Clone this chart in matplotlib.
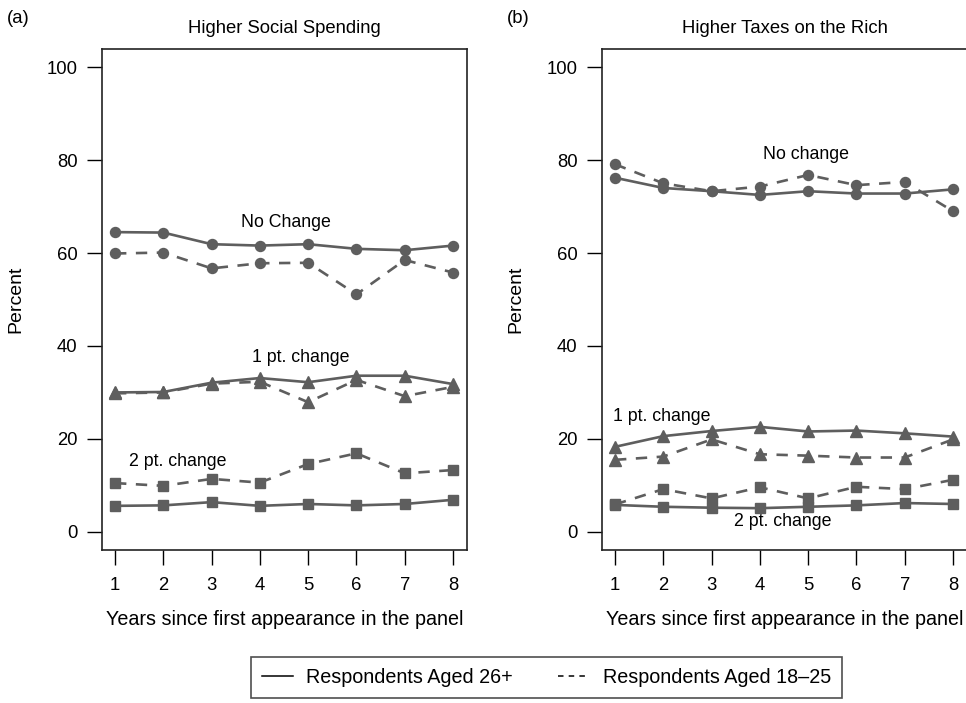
import matplotlib
matplotlib.use("Agg")
import matplotlib.pyplot as plt
from matplotlib.lines import Line2D

plt.rcParams["font.family"] = ["Liberation Sans", "DejaVu Sans"]

# ---- data (percent of respondents) ----
years = [1, 2, 3, 4, 5, 6, 7, 8]

# (a) Higher social spending
soc_none_old = [64.5, 64.4, 61.9, 61.6, 61.9, 60.9, 60.6, 61.6]
soc_none_young = [59.9, 60.1, 56.7, 57.8, 57.9, 51.1, 58.5, 55.8]
soc_one_old = [30.0, 30.1, 32.1, 33.1, 32.2, 33.6, 33.6, 31.8]
soc_one_young = [29.8, 30.0, 31.9, 32.3, 27.9, 32.7, 29.2, 31.2]
soc_two_old = [5.6, 5.7, 6.4, 5.6, 6.0, 5.7, 6.0, 6.9]
soc_two_young = [10.5, 9.9, 11.4, 10.6, 14.6, 16.9, 12.6, 13.3]

# (b) Higher taxes on the rich
tax_none_old = [76.2, 74.0, 73.3, 72.5, 73.3, 72.8, 72.8, 73.7]
tax_none_young = [79.1, 75.0, 73.3, 74.3, 76.8, 74.6, 75.3, 69.0]
tax_one_old = [18.3, 20.6, 21.7, 22.6, 21.6, 21.8, 21.2, 20.5]
tax_one_young = [15.5, 16.2, 19.9, 16.7, 16.4, 16.0, 16.0, 19.9]
tax_two_old = [5.8, 5.4, 5.2, 5.1, 5.4, 5.7, 6.2, 6.0]
tax_two_young = [5.9, 9.2, 7.2, 9.6, 7.2, 9.7, 9.2, 11.2]

W, H = 966, 703
GREY = "#5e5e5e"
LW = 1.9
DASH = (4.3, 3.6)


def draw(ax, x, y, marker, dashed, ms):
    kw = dict(color=GREY, lw=LW, marker=marker, ms=ms, mec=GREY, mfc=GREY, clip_on=False)
    if dashed:
        ax.plot(x, y, dashes=DASH, **kw)
    else:
        ax.plot(x, y, ls="-", **kw)


def style(ax):
    ax.set_xlim(0.73, 8.29)
    ax.set_ylim(-3.9, 103.9)
    ax.set_xticks(years)
    ax.set_yticks([0, 20, 40, 60, 80, 100])
    ax.tick_params(direction="out", length=11, width=1.0, labelsize=13.3,
                   colors="black")
    ax.tick_params(axis="y", pad=6.5)
    ax.tick_params(axis="x", pad=8.5)
    for sp in ax.spines.values():
        sp.set_linewidth(1.2)
        sp.set_color("#222222")
    ax.set_ylabel("Percent", fontsize=14)
    ax.yaxis.set_label_coords(-0.236, 0.5)
    ax.yaxis.label.set_verticalalignment("center")
    ax.set_xlabel("Years since first appearance in the panel", fontsize=14.2)
    ax.xaxis.set_label_coords(0.5, -0.1497)
    ax.xaxis.label.set_verticalalignment("baseline")


def box(x0, x1):
    return [x0 / W, 1 - 550 / H, (x1 - x0) / W, (550 - 49) / H]


fig = plt.figure(figsize=(W / 100, H / 100), dpi=100)
ax1 = fig.add_axes(box(102, 467))
ax2 = fig.add_axes(box(602, 967))

# panel (a)
draw(ax1, years, soc_none_old, "o", False, 7.2)
draw(ax1, years, soc_none_young, "o", True, 7.2)
draw(ax1, years, soc_one_old, "^", False, 9)
draw(ax1, years, soc_one_young, "^", True, 9)
draw(ax1, years, soc_two_old, "s", False, 7.5)
draw(ax1, years, soc_two_young, "s", True, 7.5)
style(ax1)
ax1.text(4.55, 66.6, "No Change", ha="center", va="center", fontsize=12.8)
ax1.text(4.85, 37.6, "1 pt. change", ha="center", va="center", fontsize=12.8)
ax1.text(2.3, 15.1, "2 pt. change", ha="center", va="center", fontsize=12.8)

# panel (b)
draw(ax2, years, tax_none_old, "o", False, 7.2)
draw(ax2, years, tax_none_young, "o", True, 7.2)
draw(ax2, years, tax_one_old, "^", False, 9)
draw(ax2, years, tax_one_young, "^", True, 9)
draw(ax2, years, tax_two_old, "s", False, 7.5)
draw(ax2, years, tax_two_young, "s", True, 7.5)
style(ax2)
ax2.text(4.96, 81.1, "No change", ha="center", va="center", fontsize=12.8)
ax2.text(1.97, 24.8, "1 pt. change", ha="center", va="center", fontsize=12.8)
ax2.text(4.47, 2.2, "2 pt. change", ha="center", va="center", fontsize=12.8)

# titles and panel letters
fig.text((102 + 467) / 2 / W, 1 - 33 / H, "Higher Social Spending", ha="center", va="baseline", fontsize=13.3)
fig.text((602 + 967) / 2 / W, 1 - 33 / H, "Higher Taxes on the Rich", ha="center", va="baseline", fontsize=13.3)
fig.text(7 / W, 1 - 23 / H, "(a)", ha="left", va="baseline", fontsize=13.3)
fig.text(507 / W, 1 - 23 / H, "(b)", ha="left", va="baseline", fontsize=13.3)

# legend
handles = [Line2D([], [], color="black", lw=1.1, ls="-"),
           Line2D([], [], color="black", lw=1.1, dashes=(3.6, 3.4))]
leg = fig.legend(handles, ["Respondents Aged 26+", "Respondents Aged 18\u201325"],
                 loc="upper left", bbox_to_anchor=(251 / W, 1 - 657 / H), ncol=2,
                 fontsize=14.2, frameon=True, fancybox=False, edgecolor="#222222",
                 handlelength=1.6, handletextpad=0.65, columnspacing=2.3,
                 borderpad=0.55, borderaxespad=0)
leg.get_frame().set_linewidth(1.2)

fig.savefig("out.png", dpi=100)
